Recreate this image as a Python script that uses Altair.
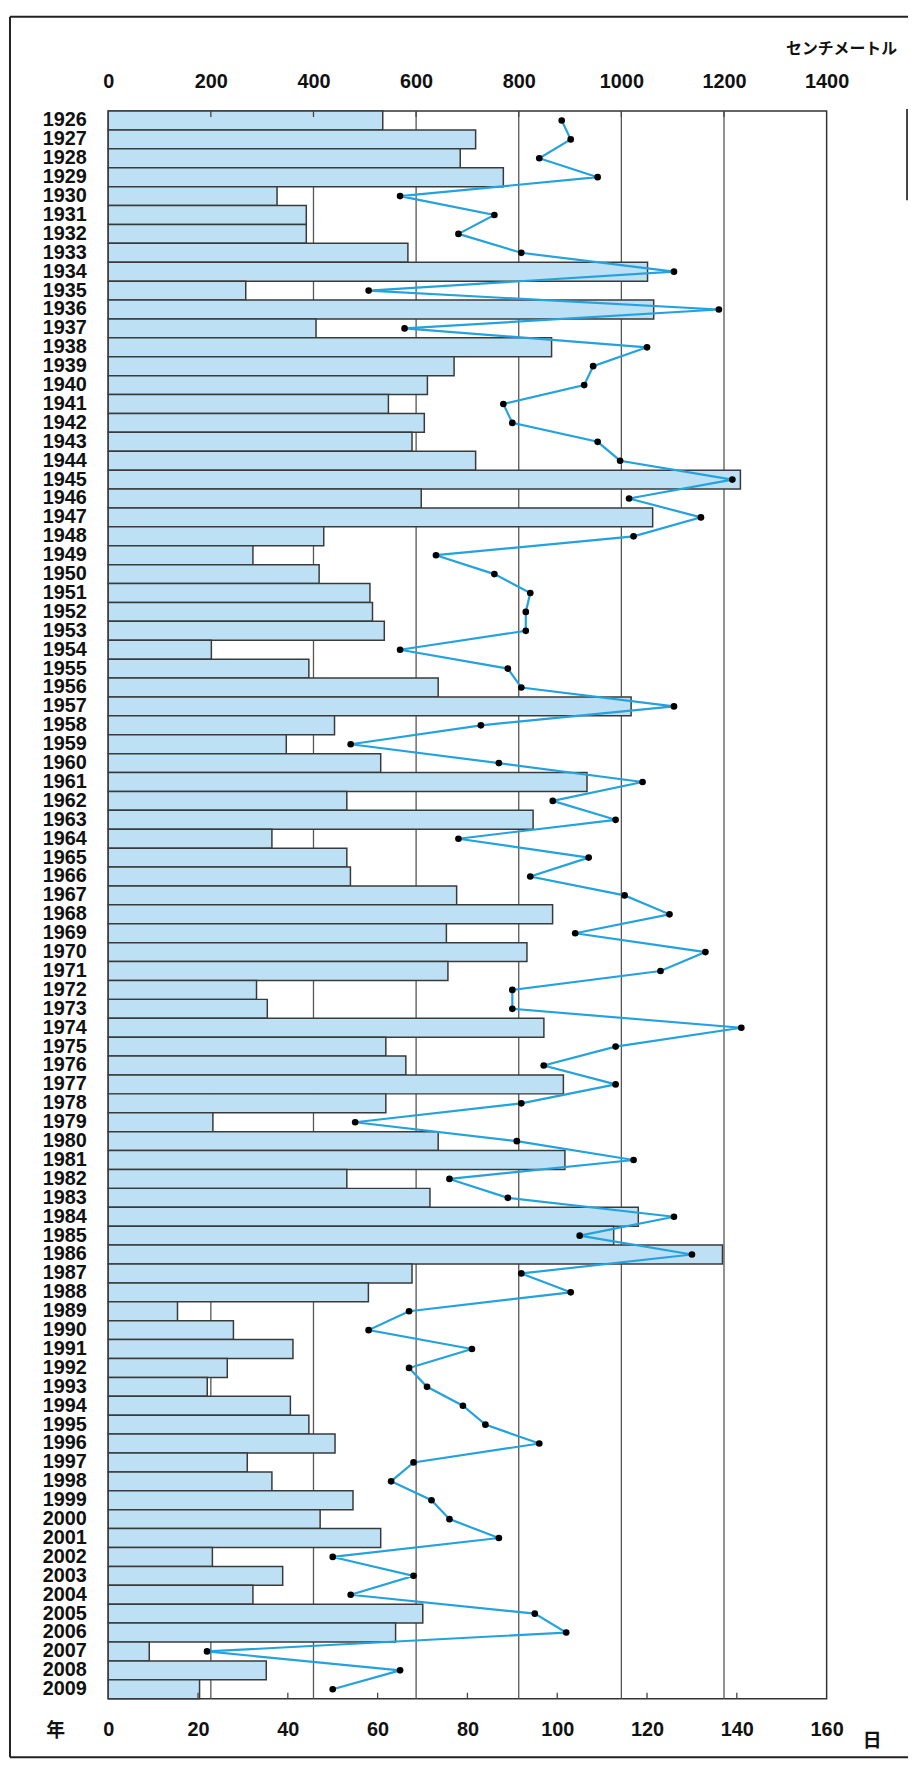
import altair as alt
import pandas as pd

years = list(range(1926, 2010))
snow_cm = [535, 716, 686, 770, 329, 386, 386, 584, 1051, 268,
           1063, 405, 864, 674, 622, 546, 616, 592, 716, 1232,
           610, 1061, 420, 282, 411, 510, 515, 538, 201, 391,
           643, 1019, 441, 347, 531, 933, 465, 828, 319, 465,
           472, 679, 866, 659, 816, 662, 289, 310, 849, 541,
           580, 887, 541, 204, 643, 890, 465, 627, 1033, 985,
           1197, 592, 507, 135, 244, 360, 232, 193, 355, 391,
           442, 271, 319, 477, 413, 531, 203, 340, 282, 613,
           560, 80, 308, 178]
snow_days = [101, 103, 96, 109, 65, 86, 78, 92, 126, 58,
             136, 66, 120, 108, 106, 88, 90, 109, 114, 139,
             116, 132, 117, 73, 86, 94, 93, 93, 65, 89,
             92, 126, 83, 54, 87, 119, 99, 113, 78, 107,
             94, 115, 125, 104, 133, 123, 90, 90, 141, 113,
             97, 113, 92, 55, 91, 117, 76, 89, 126, 105,
             130, 92, 103, 67, 58, 81, 67, 71, 79, 84,
             96, 68, 63, 72, 76, 87, 50, 68, 54, 95,
             102, 22, 65, 50]

cm_ticks = [0, 200, 400, 600, 800, 1000, 1200, 1400]
cm_grid = [200, 400, 600, 800, 1000, 1200]
day_ticks = [0, 20, 40, 60, 80, 100, 120, 140, 160]
day_inner = [20, 40, 60, 80, 100, 120, 140]

df = pd.DataFrame({"year": [str(y) for y in years], "cm": snow_cm, "days": snow_days})
grid_df = pd.DataFrame({"cm": cm_grid})
dtick_df = pd.DataFrame({"days": day_inner})

W, H = 724, 1600
FONT = "Liberation Sans, Arial, sans-serif"
CJK = "Noto Sans CJK JP"
DARK = "#333333"

yenc = alt.Y("year:O", sort=None,
             scale=alt.Scale(paddingInner=0, paddingOuter=0),
             axis=alt.Axis(title=None, ticks=False, domain=False, labelPadding=22,
                           labelFont=FONT, labelFontSize=20, labelFontWeight="bold",
                           labelColor="#111111", labelOverlap=False))

cm_scale = alt.Scale(domain=[0, 1400], nice=False, zero=True)
day_scale = alt.Scale(domain=[0, 160], nice=False, zero=True)

grid = alt.Chart(grid_df).mark_rule(color="#555555", strokeWidth=1.3).encode(
    x=alt.X("cm:Q", scale=cm_scale, axis=None),
    y=alt.value(0), y2=alt.value(H))

bars = alt.Chart(df).mark_bar(color="#bde0f4", stroke="#3a3a3a", strokeWidth=1.5).encode(
    x=alt.X("cm:Q", scale=cm_scale,
            axis=alt.Axis(orient="top", values=cm_ticks, format="d", title=None, grid=False,
                          ticks=False, tickSize=0, domain=False, labelPadding=20,
                          labelFlush=False, labelFont=FONT, labelFontSize=20,
                          labelFontWeight="bold", labelColor="#111111")),
    y=yenc)

top_ticks = alt.Chart(grid_df).mark_rule(color="#444444", strokeWidth=1.3).encode(
    x=alt.X("cm:Q", scale=cm_scale, axis=None),
    y=alt.value(0), y2=alt.value(6))

line = alt.Chart(df).mark_line(
    color="#23a2dd", strokeWidth=2.2,
    point=alt.OverlayMarkDef(color="#000000", filled=True, size=45, opacity=1)
).encode(
    x=alt.X("days:Q", scale=day_scale,
            axis=alt.Axis(orient="bottom", values=day_ticks, format="d", title=None, grid=False,
                          ticks=False, tickSize=0, domain=False, labelPadding=21,
                          labelFlush=False, labelFont=FONT, labelFontSize=20,
                          labelFontWeight="bold", labelColor="#111111")),
    y=yenc, order=alt.Order("year:O"))

bot_ticks = alt.Chart(dtick_df).mark_rule(color="#444444", strokeWidth=1.3).encode(
    x=alt.X("days:Q", scale=day_scale, axis=None),
    y=alt.value(H - 6), y2=alt.value(H))

def label(txt, x, y, size, font=CJK):
    return alt.Chart(pd.DataFrame({"t": [txt]})).mark_text(
        font=font, fontSize=size, fontWeight="bold", color="#111111",
        align="center", baseline="middle").encode(
        text="t:N", x=alt.value(x), y=alt.value(y))

unit_cm = label("センチメートル", 739, -62, 16)
unit_year = label("年", -53, 1633, 19)
unit_day = label("日", 770, 1643, 19)

one = pd.DataFrame({"a": [0]})
frame_top = alt.Chart(one).mark_rule(color="#222222", strokeWidth=2).encode(
    x=alt.value(-99), x2=alt.value(806), y=alt.value(-95))
frame_left = alt.Chart(one).mark_rule(color="#222222", strokeWidth=2).encode(
    x=alt.value(-99), y=alt.value(-95), y2=alt.value(1659))
frame_bot = alt.Chart(one).mark_rule(color="#222222", strokeWidth=2).encode(
    x=alt.value(-99), x2=alt.value(806), y=alt.value(1659))
side_mark = alt.Chart(one).mark_rule(color="#444444", strokeWidth=2).encode(
    x=alt.value(805), y=alt.value(-2), y2=alt.value(90))

chart = alt.layer(
    grid, bars, top_ticks, line, bot_ticks,
    unit_cm, unit_year, unit_day, frame_top, frame_left, frame_bot, side_mark
).resolve_scale(x="independent").properties(
    width=W, height=H,
    autosize=alt.AutoSizeParams(type="none"),
    padding={"left": 101, "top": 97, "right": 82, "bottom": 63},
    background="#ffffff"
).configure_view(stroke=DARK, strokeWidth=1.5)

chart.save("out.html", embed_options={"renderer": "svg", "actions": False})
